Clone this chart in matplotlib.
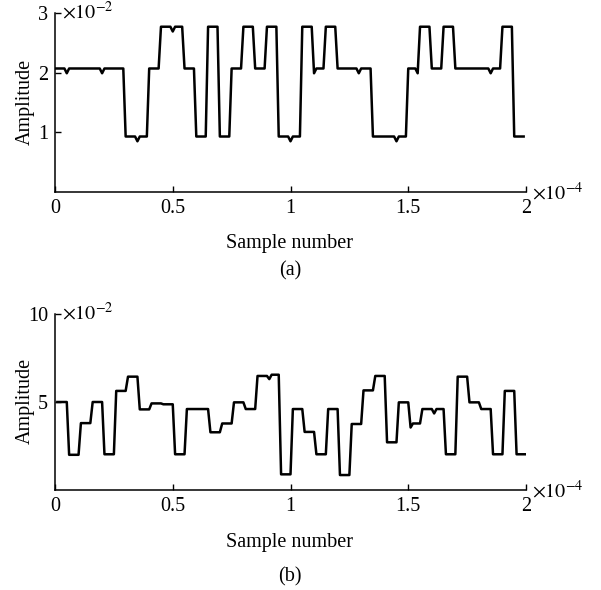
import numpy as np
import matplotlib
matplotlib.use('Agg')
import matplotlib.pyplot as plt

plt.rcParams['font.family'] = ['Liberation Serif', 'DejaVu Serif']
plt.rcParams['mathtext.fontset'] = 'stix'
plt.rcParams['font.size'] = 14.5

# (a) 40 symbols, 5 samples each, amplitude in units of 1e-2
levels_a = [2.07, 2.07, 2.07, 2.07, 2.07, 2.07, 0.93, 0.93, 2.07, 2.77,
            2.77, 2.07, 0.93, 2.77, 0.93, 2.07, 2.77, 2.07, 2.77, 0.93,
            0.93, 2.77, 2.07, 2.77, 2.07, 2.07, 2.07, 0.93, 0.93, 0.93,
            2.07, 2.77, 2.07, 2.77, 2.07, 2.07, 2.07, 2.07, 2.77, 0.93]
# single-sample dips (sample number in 1e-4, amplitude)
notch_a_t = [0.05, 0.20, 0.35, 0.50, 1.00, 1.10, 1.29, 1.45, 1.54, 1.85]
notch_a_v = [1.99, 1.99, 0.85, 2.69, 0.85, 1.99, 1.99, 0.85, 1.99, 1.99]

# (b)
levels_b = [5.00, 2.00, 3.80, 5.00, 2.03, 5.63, 6.44, 4.58, 4.92, 4.87,
            2.03, 4.60, 4.60, 3.28, 3.78, 4.98, 4.60, 6.48, 6.55, 0.89,
            4.60, 3.30, 2.03, 4.60, 0.85, 3.75, 5.66, 6.48, 2.71, 4.98,
            3.78, 4.60, 4.60, 2.03, 6.44, 4.98, 4.60, 2.03, 5.63, 2.03]
notch_b_t = [0.91, 1.51, 1.61]
notch_b_v = [6.30, 3.55, 4.35]

xticks = [0, 0.5, 1, 1.5, 2]
xtick_labels = ['0', '0.5', '1', '1.5', '2']


def build(levels, t0, notch_t, notch_v):
    y = np.repeat(np.array(levels, dtype=float), 5)
    t = t0 + np.arange(len(y)) * 0.01
    for nt, nv in zip(notch_t, notch_v):
        y[np.argmin(np.abs(t - nt))] = nv
    return t, y


def style(ax, ymax, yticks):
    ax.set_xlim(0, 2)
    ax.set_ylim(0, ymax)
    ax.set_xticks(xticks)
    ax.set_xticklabels(xtick_labels)
    ax.set_yticks(yticks)
    ax.set_yticklabels([str(v) for v in yticks])
    for s in ['top', 'right']:
        ax.spines[s].set_visible(False)
    for s in ['left', 'bottom']:
        ax.spines[s].set_linewidth(1.1)
    ax.tick_params(direction='in', length=4, width=1.0, labelsize=14.5, pad=5)


def multipliers(ax, h):
    ax.text(0.015, 1.0, r'$\times10^{-2}$', transform=ax.transAxes,
            ha='left', va='center', fontsize=14.5)
    ax.text(1.012, -8 / h, r'$\times10^{-4}$', transform=ax.transAxes,
            ha='left', va='baseline', fontsize=14.5)


W, H = 601, 590
fig = plt.figure(figsize=(W / 100, H / 100), dpi=100)

ax1 = fig.add_axes([55 / W, 1 - 192 / H, 471 / W, 179 / H])
ta, ya = build(levels_a, 0.0, notch_a_t, notch_a_v)
ax1.plot(ta, ya, color='black', lw=1.8)
style(ax1, 3, [1, 2, 3])
multipliers(ax1, 179)
fig.text(290 / W, 1 - 244 / H, 'Sample number', ha='center', va='center')
fig.text(25 / W, 1 - 102 / H, 'Amplitude', ha='center', va='center', rotation=90)
fig.text(290 / W, 1 - 271 / H, '(a)', ha='center', va='center')

ax2 = fig.add_axes([55 / W, 1 - 490 / H, 471 / W, 176 / H])
tb, yb = build(levels_b, 0.01, notch_b_t, notch_b_v)
ax2.plot(tb, yb, color='black', lw=1.8)
style(ax2, 10, [5, 10])
multipliers(ax2, 176)
fig.text(290 / W, 1 - 542 / H, 'Sample number', ha='center', va='center')
fig.text(25 / W, 1 - 401 / H, 'Amplitude', ha='center', va='center', rotation=90)
fig.text(290 / W, 1 - 577 / H, '(b)', ha='center', va='center')

fig.savefig('out.png', dpi=100)
